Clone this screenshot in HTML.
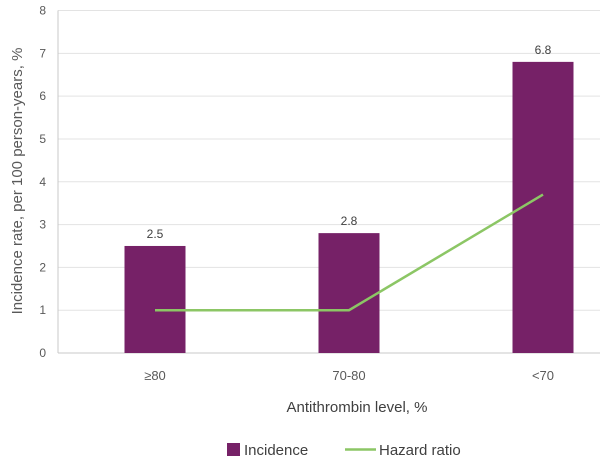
<!DOCTYPE html>
<html><head><meta charset="utf-8"><style>
body{margin:0;background:#fff;}
svg text{font-family:"Liberation Sans",sans-serif;}
</style></head><body>
<svg id="chart" width="600" height="468" xmlns="http://www.w3.org/2000/svg"></svg>
<script>
const categories = ["≥80", "70-80", "<70"];
const incidence = [2.5, 2.8, 6.8];
const hazardRatio = [1, 1, 3.7];
const yTicks = [0,1,2,3,4,5,6,7,8];

const svg = document.getElementById('chart');
const NS = 'http://www.w3.org/2000/svg';
const x0 = 58, band = 194, y0 = 353, yTop = 10.5, yMax = 8;
const y = v => y0 - (v / yMax) * (y0 - yTop);
const xc = i => x0 + (i + 0.5) * band;
function mk(tag, attrs, text) {
  const e = document.createElementNS(NS, tag);
  for (const k in attrs) e.setAttribute(k, attrs[k]);
  if (text !== undefined) e.textContent = text;
  svg.appendChild(e);
  return e;
}
yTicks.forEach(t => {
  const g = mk('line', {x1: x0, x2: 600, y1: y(t), y2: y(t), stroke: t === 0 ? '#c8c8c8' : '#e3e3e3', 'stroke-width': 1});
  
  
  const l = mk('text', {x: 46, y: y(t) + 4, 'text-anchor': 'end', 'font-size': 12, fill: '#595959'}, t);
  
  
});
const ax = mk('line', {x1: x0, x2: x0, y1: yTop, y2: y0, stroke: '#c8c8c8'});


categories.forEach((c, i) => {
  const b = mk('rect', {x: xc(i) - 30.5, y: y(incidence[i]), width: 61, height: y0 - y(incidence[i]), fill: '#762167'});
  
  
  const v = mk('text', {x: xc(i), y: y(incidence[i]) - 8, 'text-anchor': 'middle', 'font-size': 12, fill: '#404040'}, incidence[i].toFixed(1));
  
  
  const cl = mk('text', {x: xc(i), y: 380, 'text-anchor': 'middle', 'font-size': 13, fill: '#595959'}, c);
  
  
});
const pts = hazardRatio.map((v, i) => xc(i) + ',' + y(v)).join(' ');
const pl = mk('polyline', {points: pts, fill: 'none', stroke: '#8cc665', 'stroke-width': 2.5});


const yt = mk('text', {x: 0, y: 0, transform: 'translate(22,181) rotate(-90)', 'text-anchor': 'middle', 'font-size': 15, fill: '#595959'}, 'Incidence rate, per 100 person-years, %');


const xt = mk('text', {x: 357, y: 412, 'text-anchor': 'middle', 'font-size': 15, fill: '#404040'}, 'Antithrombin level, %');


const ls = mk('rect', {x: 227, y: 443, width: 13, height: 13, fill: '#762167'});


const lt = mk('text', {x: 244, y: 455, 'font-size': 15, fill: '#404040'}, 'Incidence');


const ll = mk('line', {x1: 345, x2: 376, y1: 449.5, y2: 449.5, stroke: '#8cc665', 'stroke-width': 2.5});


const lt2 = mk('text', {x: 379, y: 455, 'font-size': 15, fill: '#404040'}, 'Hazard ratio');


</script>
</body></html>
